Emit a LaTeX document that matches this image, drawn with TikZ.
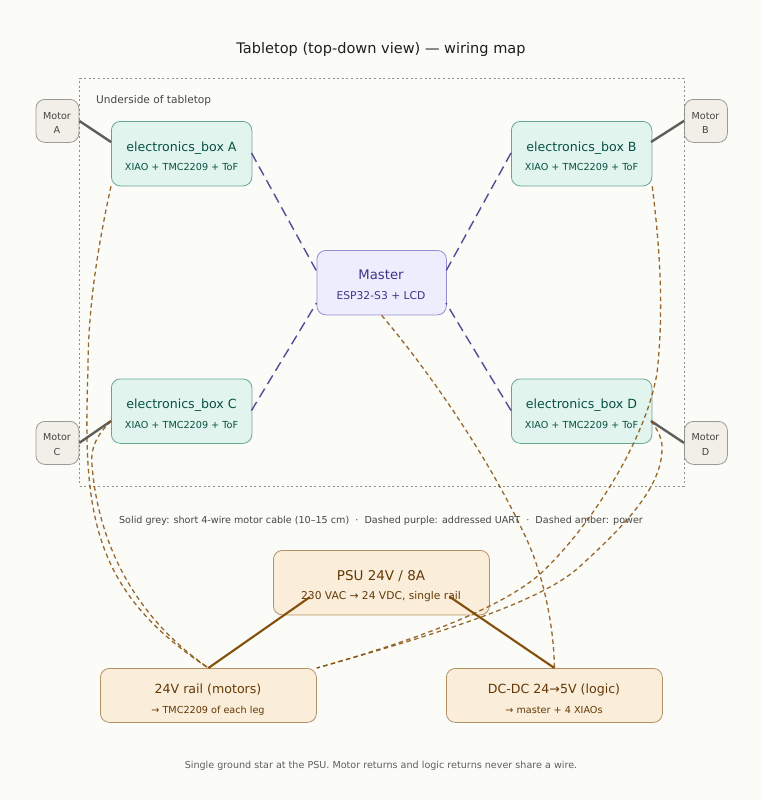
\documentclass[tikz,border=0pt]{standalone}
\usepackage{fontspec}
\setmainfont{DejaVu Sans}
\definecolor{bgc}{HTML}{FBFBF7}
\definecolor{tealF}{HTML}{E1F5EE}\definecolor{tealS}{HTML}{0F6E56}\definecolor{tealT}{HTML}{085041}
\definecolor{purF}{HTML}{EEEDFE}\definecolor{purS}{HTML}{534AB7}\definecolor{purT}{HTML}{3C3489}
\definecolor{ambF}{HTML}{FAEEDA}\definecolor{ambS}{HTML}{854F0B}\definecolor{ambT}{HTML}{633806}
\definecolor{gryF}{HTML}{F1EFE8}\definecolor{gryS}{HTML}{5F5E5A}\definecolor{gryT}{HTML}{444441}
\tikzset{
 boxbase/.style={draw,line width=0.8pt,rounded corners=9pt,inner sep=0pt,anchor=north west,draw opacity=0.6},
 elbox/.style={boxbase,fill=tealF,draw=tealS,minimum width=140.5pt,minimum height=64.5pt},
 masterbox/.style={boxbase,fill=purF,draw=purS,minimum width=129.5pt,minimum height=64.5pt},
 psubox/.style={boxbase,fill=ambF,draw=ambS,minimum width=216pt,minimum height=64.5pt},
 railbox/.style={boxbase,fill=ambF,draw=ambS,minimum width=216pt,minimum height=54pt},
 motorbox/.style={boxbase,fill=gryF,draw=gryS,minimum width=43pt,minimum height=43pt},
 txt/.style={anchor=base,inner sep=0pt},
 big/.style={txt,font=\fontsize{12.6}{15}\selectfont},
 small/.style={txt,font=\fontsize{9.65}{12}\selectfont},
 mot/.style={txt,font=\fontsize{9.6}{12}\selectfont,text=gryT},
 cable/.style={draw=gryS,line width=2.4pt},
 uart/.style={draw=purT,draw opacity=0.88,line width=1.4pt,dash pattern=on 10pt off 5.5pt},
 pow/.style={draw=ambS,draw opacity=0.85,line width=1.3pt,dash pattern=on 4.5pt off 3.4pt},
 feed/.style={draw=ambS,line width=2.1pt},
 note/.style={txt,font=\fontsize{9.6}{12}\selectfont,text=gryT},
}
\begin{document}
\begin{tikzpicture}[x=1pt,y=-1pt]
\useasboundingbox (0,0) rectangle (762,800);
\fill[bgc] (0,0) rectangle (762,800);
\node[txt,font=\fontsize{14.55}{18}\selectfont,text=black!88] (title) at (381,53) {Tabletop (top-down view) — wiring map};
\node[draw=gryS!70,line width=0.8pt,dash pattern=on 2pt off 2.6pt,minimum width=604.5pt,minimum height=407.5pt,inner sep=0pt,anchor=north west] (frame) at (79.2,78) {};
\node[note,anchor=base west,font=\fontsize{10.6}{13}\selectfont] (under) at (96,103) {Underside of tabletop};
% boxes
\node[elbox] (a) at (111,121) {};
\node[elbox] (b) at (511,121) {};
\node[elbox] (c) at (111,378.5) {};
\node[elbox] (d) at (511,378.5) {};
\node[masterbox] (m) at (316.5,250) {};
\node[motorbox] (ma) at (35.5,99) {};
\node[motorbox] (mb) at (684,99) {};
\node[motorbox] (mc) at (35.5,421) {};
\node[motorbox] (md) at (684,421) {};
\node[psubox] (psu) at (273,550) {};
\node[railbox] (rail) at (100,668) {};
\node[railbox] (dc) at (446,668) {};
% texts
\node[big,text=tealT] (at1) at (181.5,151) {electronics\_box A};
\node[small,text=tealT] (at2) at (181.5,170.5) {XIAO + TMC2209 + ToF};
\node[big,text=tealT] (bt1) at (581.5,151) {electronics\_box B};
\node[small,text=tealT] (bt2) at (581.5,170.5) {XIAO + TMC2209 + ToF};
\node[big,text=tealT] (ct1) at (181.5,408) {electronics\_box C};
\node[small,text=tealT] (ct2) at (181.5,428) {XIAO + TMC2209 + ToF};
\node[big,text=tealT] (dt1) at (581.5,408) {electronics\_box D};
\node[small,text=tealT] (dt2) at (581.5,428) {XIAO + TMC2209 + ToF};
\node[big,text=purT,font=\fontsize{13.2}{15}\selectfont] (mt1) at (381,279.5) {Master};
\node[small,text=purT,font=\fontsize{10.75}{13}\selectfont] (mt2) at (381,299.5) {ESP32-S3 + LCD};
\node[mot] (ma1) at (57,119) {Motor};
\node[mot] (ma2) at (57,133.5) {A};
\node[mot] (mb1) at (705.5,119) {Motor};
\node[mot] (mb2) at (705.5,133.5) {B};
\node[mot] (mc1) at (57,440) {Motor};
\node[mot] (mc2) at (57,455) {C};
\node[mot] (md1) at (705.5,440) {Motor};
\node[mot] (md2) at (705.5,455) {D};
\node[big,text=ambT,font=\fontsize{13.5}{15}\selectfont] (pt1) at (381,580) {PSU 24V / 8A};
\node[small,text=ambT,font=\fontsize{10.7}{13}\selectfont] (pt2) at (381,599) {230 VAC → 24 VDC, single rail};
\node[big,text=ambT] (rt1) at (208,693.5) {24V rail (motors)};
\node[small,text=ambT] (rt2) at (208,713) {→ TMC2209 of each leg};
\node[big,text=ambT] (dct1) at (554,693.5) {DC-DC 24→5V (logic)};
\node[small,text=ambT] (dct2) at (554,713) {→ master + 4 XIAOs};
\node[note] (leg) at (381,523.5) {Solid grey: short 4-wire motor cable (10–15 cm) \ ·\ \ Dashed purple: addressed UART \ ·\ \ Dashed amber: power};
\node[note,text=gryS] (foot) at (381,768.5) {Single ground star at the PSU. Motor returns and logic returns never share a wire.};
% connector end points
\coordinate (ac) at (111,142); \coordinate (bc) at (651,142);
\coordinate (cc) at (111,421); \coordinate (dc2) at (651,421);
\coordinate (au) at (251.5,153); \coordinate (bu) at (511,153);
\coordinate (cu) at (251.5,410.5); \coordinate (du) at (511,410.5);
\coordinate (m1) at (316.5,271); \coordinate (m2) at (446,271);
\coordinate (m3) at (316.5,303); \coordinate (m4) at (446,303);
\coordinate (p1) at (310,597); \coordinate (p2) at (450,597);
% cables
\draw[cable] (ma.east) -- (ac);
\draw[cable] (mb.west) -- (bc);
\draw[cable] (mc.east) -- (cc);
\draw[cable] (md.west) -- (dc2);
% uart
\draw[uart] (au) -- (m1);
\draw[uart] (bu) -- (m2);
\draw[uart] (cu) -- (m3);
\draw[uart] (du) -- (m4);
% power
\draw[pow] (a.south west) .. controls (97,250) and (88,310) .. (88,370) .. controls (83,510) and (90,590) .. (rail.north);
\draw[pow] (cc) .. controls (100,432) and (90,445) .. (92,465) .. controls (97,530) and (125,610) .. (rail.north);
\draw[pow] (b.south east) .. controls (660,250) and (664,310) .. (657,373) .. controls (645,445) and (585,533) .. (539,575) .. controls (495,612) and (405,643) .. (rail.north east);
\draw[pow] (dc2) .. controls (658,430) and (663,440) .. (662,450) .. controls (661,490) and (620,530) .. (577,569) .. controls (536,604) and (430,636) .. (rail.north east);
\draw[pow] (m.south) .. controls (440,385) and (495,470) .. (527,540) .. controls (545,580) and (554,630) .. (dc.north);
% feeds
\draw[feed] (rail.north) -- (p1);
\draw[feed] (dc.north) -- (p2);
\end{tikzpicture}
\end{document}
